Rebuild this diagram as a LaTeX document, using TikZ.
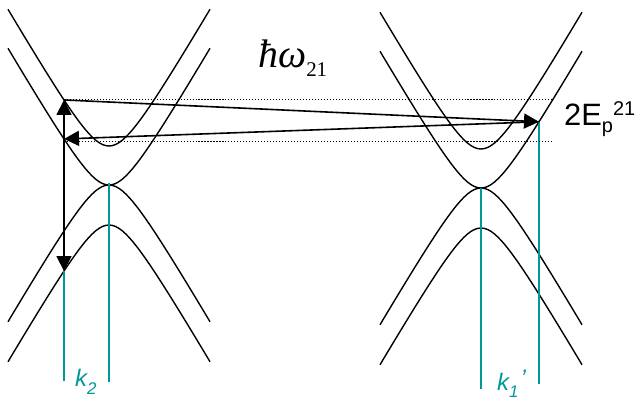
\documentclass[tikz,border=0pt]{standalone}
\usepackage{fontspec}
\setmainfont{Liberation Sans}
\newfontfamily\timesfont{Liberation Serif}
\usetikzlibrary{arrows.meta}
\definecolor{kteal}{RGB}{0,153,153}

\begin{document}
\begin{tikzpicture}[x=1bp, y=-1bp,
  declare function={bandg(\d)=10*(sqrt(17.64+(0.172*\d)^2)-4.2);},
  band/.style={line width=1.4pt},
  kline/.style={kteal, line width=1.4pt},
  jump/.style={line width=1.6pt, -{Triangle[length=15bp,width=15bp]}},
  level/.style={line width=1.1pt, dash pattern=on 1.1pt off 1.9pt},
  every node/.style={inner sep=0pt}]
  \useasboundingbox (0,0) rectangle (642,401);
  % bands, left and right
  \foreach \cx/\cy in {109/0, 481/3} {
    \draw[band] plot[domain=-101:101, samples=61] ({\cx+\x}, {146+\cy-bandg(\x)});
    \draw[band] plot[domain=-101:101, samples=61] ({\cx+\x}, {185+\cy-bandg(\x)});
    \draw[band] plot[domain=-101:101, samples=61] ({\cx+\x}, {185+\cy+bandg(\x)});
    \draw[band] plot[domain=-101:101, samples=61] ({\cx+\x}, {225+\cy+bandg(\x)});
  }
  \coordinate (k2top) at (64,{146-bandg(-45)});
  \coordinate (k2mid) at (64,{185-bandg(-45)});
  \coordinate (k2bot) at (64,{225+bandg(-45)});
  \coordinate (k1top) at (539,{188-bandg(58)});
  \coordinate (lvlend) at (552,0);
  % k lines
  \draw[kline] (k2bot) -- (64,381) coordinate (k2foot);
  \draw[kline] (109,183) coordinate (k2c) -- (109,382) coordinate (k2cfoot);
  \draw[kline] (481,188) coordinate (k1c) -- (481,389) coordinate (k1cfoot);
  \draw[kline] (k1top) -- (539,384) coordinate (k1foot);
  % levels
  \draw[level] (k2top) -- (k2top -| lvlend);
  \draw[level] ([yshift=-3bp]k2mid) -- ([yshift=-3bp]k2mid -| lvlend);
  % transitions
  \draw[jump] (k2mid) -- (k2top);
  \draw[jump] (k2mid) -- (k2bot);
  \draw[jump] (k2top) -- (k1top);
  \draw[jump] (k1top) -- (k2mid);
  % labels
  \node[anchor=base west, font=\timesfont\itshape\fontsize{40}{44}\selectfont] (hw) at (258,67)
    {ħω\raisebox{-9bp}{\upshape\fontsize{21}{22}\selectfont 21}};
  \node[anchor=base west, font=\fontsize{31}{36}\selectfont] (ep) at (564,125)
    {2E\raisebox{-7bp}{\fontsize{20}{22}\selectfont p}\raisebox{10bp}{\fontsize{20}{22}\selectfont 21}};
  \node[anchor=base west, kteal, font=\itshape\fontsize{24}{26}\selectfont] (k2lab) at (75,386)
    {k\raisebox{-8bp}{\fontsize{17}{18}\selectfont 2}};
  \node[anchor=base west, kteal, font=\itshape\fontsize{24}{26}\selectfont] (k1lab) at (497,390)
    {k\raisebox{-7bp}{\fontsize{17}{18}\selectfont 1}\hspace{2bp}\raisebox{4bp}{\fontsize{24}{26}\selectfont ’}};
\end{tikzpicture}
\end{document}
